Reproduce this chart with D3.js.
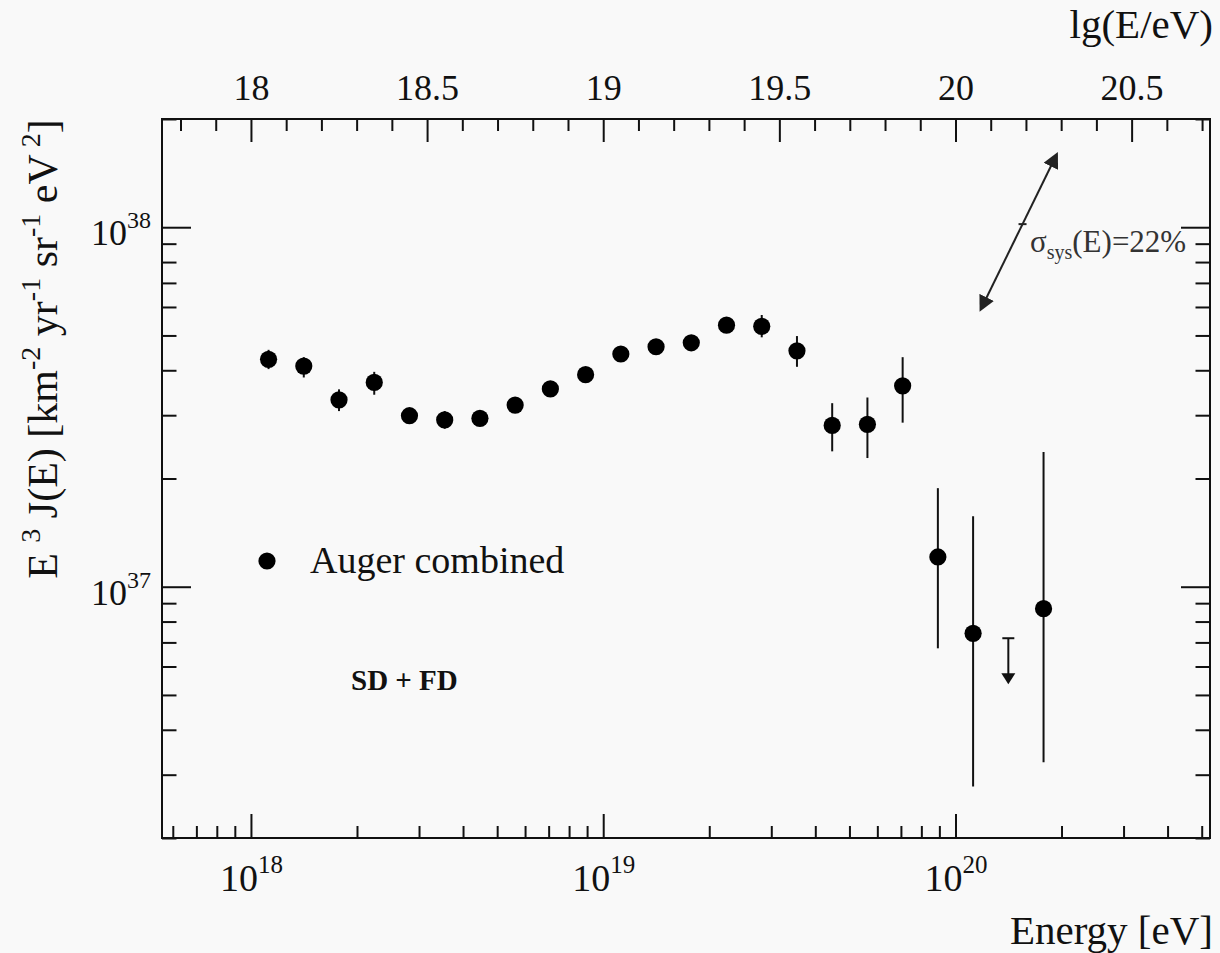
<!DOCTYPE html>
<html>
<head>
<meta charset="utf-8">
<script src="https://cdn.jsdelivr.net/npm/d3@7"></script>
<style>
  html, body { margin: 0; padding: 0; background: #f9f9f9; }
  svg { display: block; }
  svg text { font-family: "Liberation Serif", "Times New Roman", serif; }
</style>
</head>
<body>
<svg id="chart" width="1220" height="953"></svg>
<script>
// Auger combined spectrum (SD + FD): bin centres in lg(E/eV) and E^3 J(E) [km^-2 yr^-1 sr^-1 eV^2]
const lgEnergy = [18.05, 18.15, 18.25, 18.35, 18.45, 18.55, 18.65, 18.75, 18.85, 18.95, 19.05,
                  19.15, 19.25, 19.35, 19.45, 19.55, 19.65, 19.75, 19.85, 19.95, 20.05, 20.25];
const flux     = [4.29e37, 4.11e37, 3.31e37, 3.70e37, 2.99e37, 2.91e37, 2.94e37, 3.20e37, 3.55e37, 3.89e37, 4.44e37,
                  4.65e37, 4.77e37, 5.34e37, 5.30e37, 4.53e37, 2.81e37, 2.83e37, 3.62e37, 1.21e37, 7.42e36, 8.69e36];
const fluxLow  = [4.03e37, 3.82e37, 3.08e37, 3.42e37, 2.87e37, 2.75e37, 2.82e37, 3.07e37, 3.41e37, 3.74e37, 4.28e37,
                  4.47e37, 4.58e37, 5.12e37, 4.94e37, 4.09e37, 2.38e37, 2.28e37, 2.86e37, 6.74e36, 2.78e36, 3.25e36];
const fluxHigh = [4.56e37, 4.35e37, 3.54e37, 3.96e37, 3.12e37, 3.08e37, 3.07e37, 3.34e37, 3.69e37, 4.05e37, 4.61e37,
                  4.84e37, 4.97e37, 5.57e37, 5.70e37, 4.98e37, 3.24e37, 3.36e37, 4.35e37, 1.88e37, 1.57e37, 2.37e37];

// upper limit bin
const limitLgEnergy = [20.15];
const limitFlux     = [7.19e36];

// systematic energy-scale uncertainty indicator
const sysEnergy = 1.55e20;
const sysFlux   = 1.02e38;
const sysSigma  = 0.22;

// axis ticks
const energyMajor = [1e18, 1e19, 1e20];
const lgMajor     = [18, 18.5, 19, 19.5, 20, 20.5];
const fluxMajor   = [1e37, 1e38];

const W = 1220, H = 953;
const L = 162, R = 1210, T = 119, B = 838;
const lgMin = 17.7475, lgMax = 20.7225;
const SERIF = "'Liberation Serif', 'Times New Roman', serif";

const svg = d3.select("#chart");
svg.append("rect").attr("width", W).attr("height", H).attr("fill", "#f9f9f9");

const x  = d3.scaleLog().domain([Math.pow(10, lgMin), Math.pow(10, lgMax)]).range([L, R]);
const lg = d3.scaleLinear().domain([lgMin, lgMax]).range([L, R]);
const y  = d3.scaleLog().domain([2e36, 2e38]).range([B, T]);

const ink = "#111";

// ---- axes ----
function styleAxis(g) {
  g.attr("font-family", SERIF).attr("font-size", null);
  g.select(".domain").remove();
  g.selectAll(".tick line").attr("stroke", ink).attr("stroke-width", 2);
}

const xMinor = x.ticks().filter(v => !energyMajor.some(m => Math.abs(m - v) / m < 1e-6));
const yMinor = y.ticks().filter(v => !fluxMajor.some(m => Math.abs(m - v) / m < 1e-6));
const lgMinor = lg.ticks(30).filter(v => !lgMajor.some(m => Math.abs(m - v) < 1e-6));

// bottom: energy
svg.append("g").attr("transform", `translate(0,${B})`)
  .call(d3.axisBottom(x).tickValues(xMinor).tickSize(-12).tickFormat(""))
  .call(styleAxis);
const xAxisMajor = svg.append("g").attr("transform", `translate(0,${B})`)
  .call(d3.axisBottom(x).tickValues(energyMajor).tickSize(-24).tickPadding(0).tickFormat(""))
  .call(styleAxis);
xAxisMajor.selectAll(".tick").each(function(d) {
  const t = d3.select(this).append("text")
    .attr("fill", ink).attr("text-anchor", "middle").attr("y", 53)
    .attr("font-family", SERIF).style("font-size", "38px");
  t.append("tspan").text("10");
  t.append("tspan").attr("dy", -18).style("font-size", "25px").text(String(Math.round(Math.log10(d))));
});

// top: lg(E/eV)
svg.append("g").attr("transform", `translate(0,${T})`)
  .call(d3.axisTop(lg).tickValues(lgMinor).tickSize(-12).tickFormat(""))
  .call(styleAxis);
const lgAxis = svg.append("g").attr("transform", `translate(0,${T})`)
  .call(d3.axisTop(lg).tickValues(lgMajor).tickSize(-23).tickPadding(20).tickFormat(d3.format("")))
  .call(styleAxis);
lgAxis.selectAll(".tick text").attr("fill", ink).attr("font-family", SERIF).style("font-size", "36px")
  .attr("y", -19).attr("dy", null);

// left and right: flux
[[d3.axisLeft, L], [d3.axisRight, R]].forEach(([axisFn, pos]) => {
  svg.append("g").attr("transform", `translate(${pos},0)`)
    .call(axisFn(y).tickValues(yMinor).tickSize(-14.5).tickFormat(""))
    .call(styleAxis);
  svg.append("g").attr("transform", `translate(${pos},0)`)
    .call(axisFn(y).tickValues(fluxMajor).tickSize(-29).tickFormat(""))
    .call(styleAxis);
});
fluxMajor.forEach(v => {
  const t = svg.append("text").attr("x", 151).attr("y", y(v) + 18)
    .attr("text-anchor", "end").attr("fill", ink).attr("font-family", SERIF).style("font-size", "36px");
  t.append("tspan").text("10");
  t.append("tspan").attr("dy", -17).style("font-size", "24px").text(String(Math.round(Math.log10(v))));
});

// frame
svg.append("rect").attr("x", L).attr("y", T).attr("width", R - L).attr("height", B - T)
  .attr("fill", "none").attr("stroke", ink).attr("stroke-width", 2);

// axis titles
svg.append("text").attr("x", R + 3).attr("y", 944).attr("text-anchor", "end")
  .attr("fill", ink).attr("font-family", SERIF).style("font-size", "41px").text("Energy [eV]");
svg.append("text").attr("x", R + 3).attr("y", 38).attr("text-anchor", "end")
  .attr("fill", ink).attr("font-family", SERIF).style("font-size", "41px").text("lg(E/eV)");

const yt = svg.append("text").attr("transform", "translate(57,349) rotate(-90)")
  .attr("text-anchor", "middle").attr("fill", ink).attr("font-family", SERIF).style("font-size", "42px");
[
  { t: "E " }, { t: "3", s: true }, { t: " J(E) [km" }, { t: "-2", s: true },
  { t: " yr" }, { t: "-1", s: true }, { t: " sr" }, { t: "-1", s: true },
  { t: " eV" }, { t: " 2", s: true }, { t: "]" }
].forEach((p, i, arr) => {
  const prevSup = i > 0 && arr[i - 1].s;
  const ts = yt.append("tspan").text(p.t);
  if (p.s) ts.attr("dy", -17).style("font-size", "28px");
  else if (prevSup) ts.attr("dy", 17);
});

// ---- data ----
const pts = lgEnergy.map((e, i) => ({ e, v: flux[i], lo: fluxLow[i], hi: fluxHigh[i] }));
const plot = svg.append("g");

plot.selectAll("line.err").data(pts).join("line").attr("class", "err")
  .attr("x1", d => lg(d.e)).attr("x2", d => lg(d.e))
  .attr("y1", d => y(d.lo)).attr("y2", d => y(d.hi))
  .attr("stroke", ink).attr("stroke-width", 2);

plot.selectAll("circle.pt").data(pts).join("circle").attr("class", "pt")
  .attr("cx", d => lg(d.e)).attr("cy", d => y(d.v)).attr("r", 8.6).attr("fill", "#000");

// upper limit: cap, stem and downward arrow
const limits = limitLgEnergy.map((e, i) => ({ e, v: limitFlux[i] }));
limits.forEach(d => {
  const cx = lg(d.e), cy = y(d.v);
  plot.append("line").attr("x1", cx - 6).attr("x2", cx + 6).attr("y1", cy).attr("y2", cy)
    .attr("stroke", ink).attr("stroke-width", 2);
  plot.append("line").attr("x1", cx).attr("x2", cx).attr("y1", cy).attr("y2", cy + 38)
    .attr("stroke", ink).attr("stroke-width", 2);
  plot.append("path").attr("d", `M${cx - 7},${cy + 35} L${cx + 7},${cy + 35} L${cx},${cy + 46} Z`)
    .attr("fill", ink);
});

// systematic uncertainty arrow: E shifted by ±σ moves E^3 J by (1±σ)^2
const defs = svg.append("defs");
defs.append("marker").attr("id", "head").attr("viewBox", "0 0 10 10")
  .attr("refX", 3).attr("refY", 5).attr("markerWidth", 16).attr("markerHeight", 16)
  .attr("markerUnits", "userSpaceOnUse").attr("orient", "auto-start-reverse")
  .append("path").attr("d", "M0,0 L10,5 L0,10 Z").attr("fill", "#222");

const sx1 = x(sysEnergy * (1 - sysSigma)), sy1 = y(sysFlux * Math.pow(1 - sysSigma, 2));
const sx2 = x(sysEnergy * (1 + sysSigma)), sy2 = y(sysFlux * Math.pow(1 + sysSigma, 2));
plot.append("line").attr("x1", sx1).attr("y1", sy1).attr("x2", sx2).attr("y2", sy2)
  .attr("stroke", "#222").attr("stroke-width", 2)
  .attr("marker-start", "url(#head)").attr("marker-end", "url(#head)");
const scx = x(sysEnergy), scy = y(sysFlux);
plot.append("line").attr("x1", scx - 4).attr("x2", scx + 4).attr("y1", scy).attr("y2", scy)
  .attr("stroke", "#222").attr("stroke-width", 2);

const sl = svg.append("text").attr("x", 1030).attr("y", 252).attr("fill", "#333")
  .attr("font-family", SERIF).style("font-size", "31px");
sl.append("tspan").text("σ");
sl.append("tspan").attr("dy", 7).style("font-size", "20px").text("sys");
sl.append("tspan").attr("dy", -7).text("(E)=22%");

// legend and annotation
svg.append("circle").attr("cx", 267).attr("cy", 561).attr("r", 8.6).attr("fill", "#000");
svg.append("text").attr("x", 310).attr("y", 573).attr("fill", ink).attr("font-family", SERIF)
  .style("font-size", "38px").text("Auger combined");
svg.append("text").attr("x", 351).attr("y", 690).attr("fill", ink).attr("font-family", SERIF)
  .style("font-size", "29px").style("font-weight", "bold").text("SD + FD");
</script>
</body>
</html>
